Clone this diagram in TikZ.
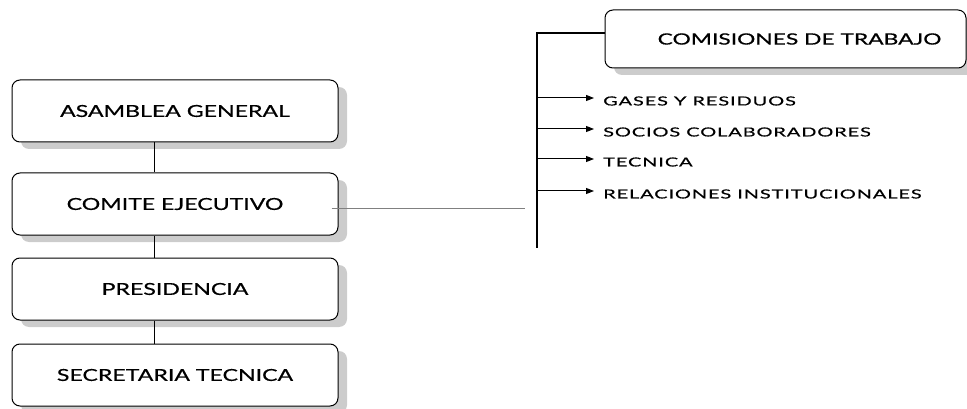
\documentclass[tikz,border=0pt]{standalone}
\usepackage{fontspec}
\setmainfont{Lato}
\newfontfamily\orgfont[FakeStretch=1.4,FakeBold=0.6]{Lato}
\newfontfamily\comfont[FakeStretch=1.47,FakeBold=0.6]{Lato}
\newfontfamily\listfont[FakeStretch=1.6,LetterSpace=7,FakeBold=0.4]{Lato}
\usetikzlibrary{shadows,arrows.meta}

\begin{document}
\begin{tikzpicture}[x=1pt,y=-1pt,
  orgbox/.style={draw,line width=1pt,rounded corners=8pt,fill=white,
    minimum width=326pt,minimum height=62pt,font=\orgfont\fontsize{16.5}{18}\selectfont,
    drop shadow={shadow xshift=9pt,shadow yshift=-7pt,fill=black!20,opacity=1}},
  listitem/.style={anchor=west,inner sep=0pt,font=\listfont\fontsize{12.5}{15}\selectfont}]
\useasboundingbox (0,0) rectangle (967,409);
% left column
\node[orgbox] (asamblea) at (175,111) {ASAMBLEA GENERAL};
\node[orgbox] (comite) at (175,204) {COMITE EJECUTIVO};
\node[orgbox] (presidencia) at (175,289) {PRESIDENCIA};
\node[orgbox] (secretaria) at (175,375) {SECRETARIA TECNICA};
\coordinate (trunk) at (154,0);
\draw (asamblea.south -| trunk) -- (comite.north -| trunk);
\draw (comite.south -| trunk) -- (presidencia.north -| trunk);
\draw (presidencia.south -| trunk) -- (secretaria.north -| trunk);
% comisiones
\node[orgbox,minimum width=361pt,minimum height=58pt,font=\comfont\fontsize{15.5}{17}\selectfont]
  (comisiones) at (785.5,39) {\hspace*{28pt}COMISIONES DE TRABAJO};
\coordinate (bustop) at (537,33);
\coordinate (busend) at (537,248);
\coordinate (linkend) at (525,208);
\draw[black!50] ([xshift=-7pt]comite.east |- linkend) -- (linkend);
\draw[line width=1.2pt] (bustop -| comisiones.west) -- (bustop) -- (busend);
\foreach \name/\y/\txt in {gases/98/GASES Y RESIDUOS,socios/129/SOCIOS COLABORADORES,
    tecnica/159/TECNICA,relaciones/191/RELACIONES INSTITUCIONALES}{
  \node[listitem] (\name) at (603,\y+3) {\txt};
  \draw[line width=1pt,-{Triangle[length=8pt,width=6pt]},shorten >=9pt]
    ([yshift=3pt]\name.west -| bustop) -- ([yshift=3pt]\name.west);
}
\end{tikzpicture}
\end{document}
